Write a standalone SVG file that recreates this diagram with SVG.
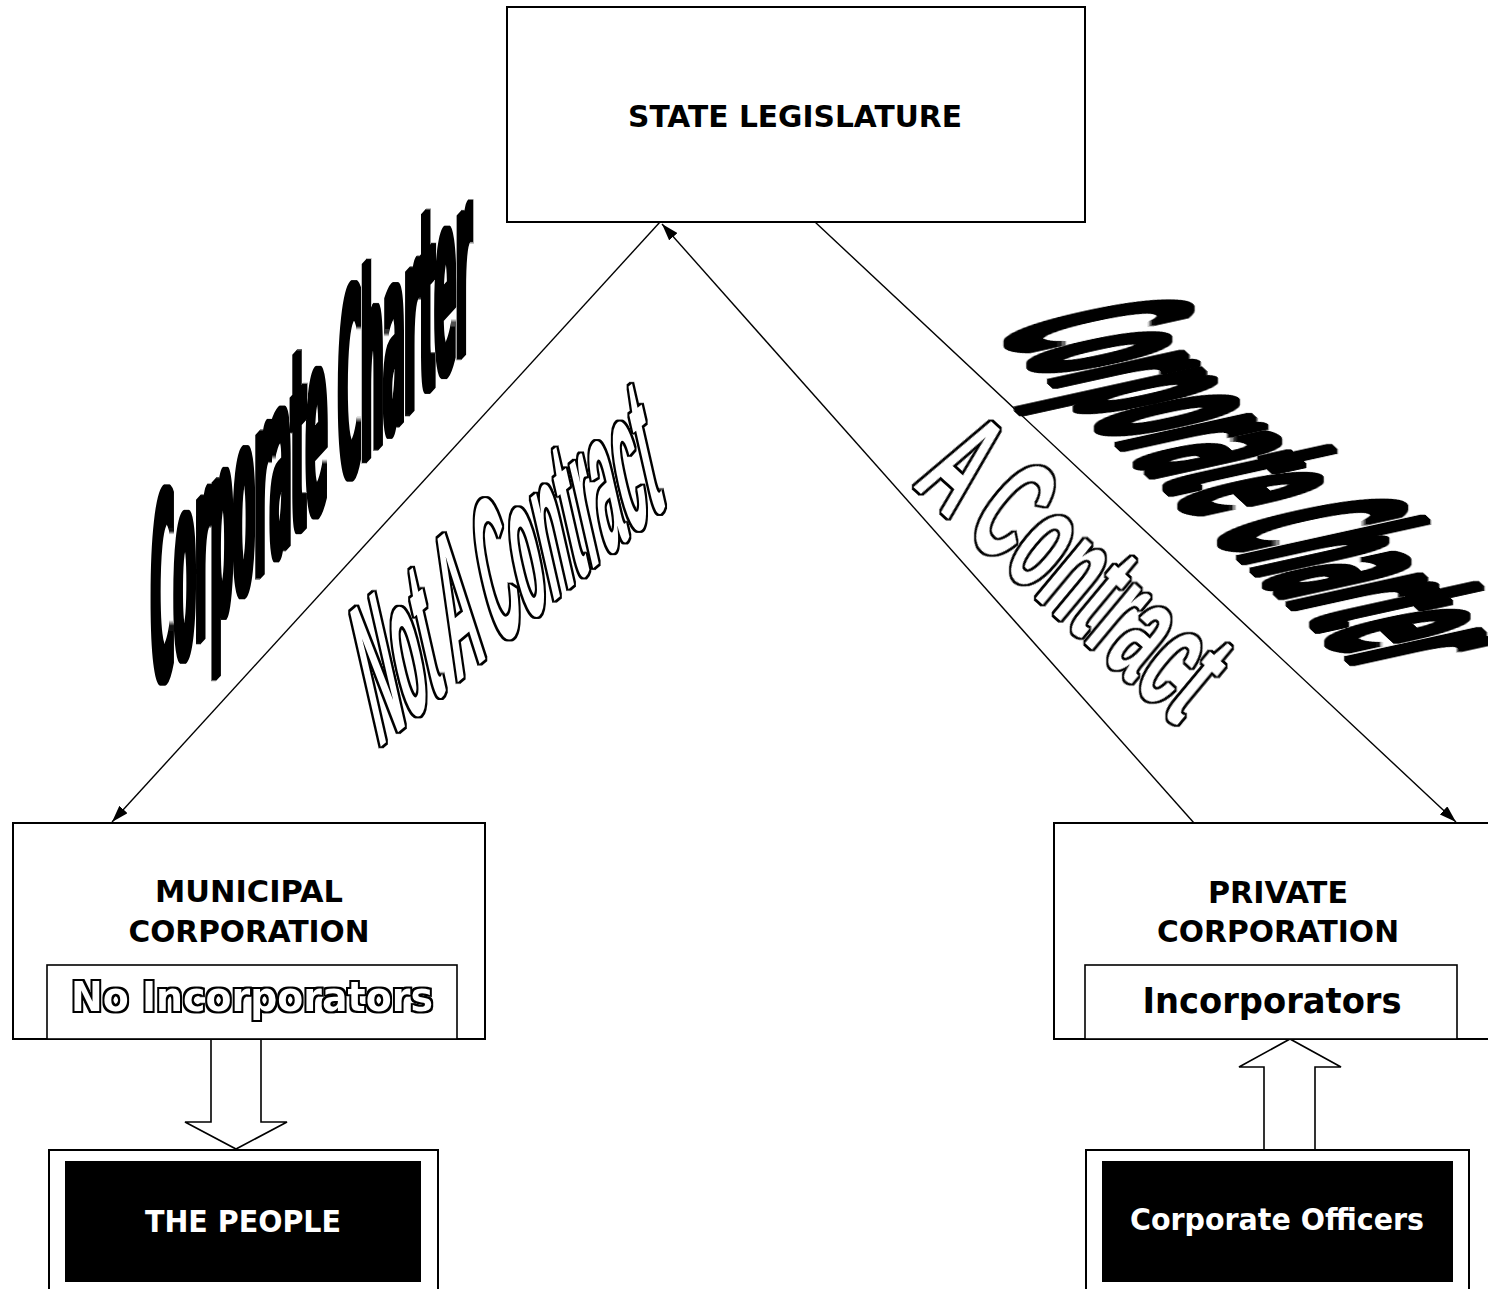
<svg xmlns="http://www.w3.org/2000/svg" width="1488" height="1289" viewBox="0 0 1488 1289">
<style>
.box{fill:#fff;stroke:#000;stroke-width:2}
.inner{fill:#fff;stroke:#000;stroke-width:1.6}
.dark{fill:#000;stroke:none}
.lbl{font-family:"DejaVu Sans","Liberation Sans",sans-serif;font-weight:bold;text-anchor:middle;fill:#000}
.wlbl{font-family:"DejaVu Sans","Liberation Sans",sans-serif;font-weight:bold;text-anchor:middle;fill:#fff}
.conn{stroke:#000;stroke-width:1.4;fill:none}
.hollow{fill:#fff;stroke:#000;stroke-width:1.6}
.wa{font-family:"DejaVu Sans","Liberation Sans",sans-serif;font-weight:bold;fill:#000}
.wo{font-family:"Liberation Sans","Arial",sans-serif;font-weight:bold;fill:#000}
</style>
<defs>
<marker id="ah" viewBox="0 0 17 11" refX="17" refY="5.5" markerWidth="17" markerHeight="11" markerUnits="userSpaceOnUse" orient="auto">
<path d="M0,0 L17,5.5 L0,11 z" fill="#000"/>
</marker>
<filter id="outline" x="-10%" y="-10%" width="120%" height="120%" color-interpolation-filters="sRGB">
<feMorphology in="SourceAlpha" operator="dilate" radius="1.5" result="d"/>
<feFlood flood-color="#ffffff" result="w"/>
<feComposite in="w" in2="SourceAlpha" operator="in" result="wf"/>
<feMerge><feMergeNode in="d"/><feMergeNode in="wf"/></feMerge>
</filter>
<filter id="heavy" x="-10%" y="-10%" width="120%" height="120%">
<feMorphology in="SourceGraphic" operator="dilate" radius="1.8"/>
</filter>
</defs>
<rect width="1488" height="1289" fill="#fff"/>

<g id="connectors">
<line class="conn" x1="660" y1="222" x2="112" y2="822" marker-end="url(#ah)"/>
<line class="conn" x1="1194" y1="823" x2="662" y2="224" marker-end="url(#ah)"/>
<line class="conn" x1="815" y1="222" x2="1456" y2="822" marker-end="url(#ah)"/>
<path class="hollow" d="M211,1039 L211,1122 L185,1122 L236,1149 L287,1122 L261,1122 L261,1039"/>
<path class="hollow" d="M1264,1150 L1264,1067 L1239,1067 L1290,1039 L1341,1067 L1315,1067 L1315,1150"/>
</g>

<g id="state-legislature">
<rect class="box" x="507" y="7" width="578" height="215"/>
<text class="lbl" x="795" y="127" font-size="30" textLength="334" lengthAdjust="spacingAndGlyphs">STATE LEGISLATURE</text>
</g>

<g id="municipal-corporation">
<rect class="box" x="13" y="823" width="472" height="216"/>
<text class="lbl" x="249" y="902" font-size="30" textLength="188" lengthAdjust="spacingAndGlyphs">MUNICIPAL</text>
<text class="lbl" x="249" y="942" font-size="30" textLength="241" lengthAdjust="spacingAndGlyphs">CORPORATION</text>
<rect class="inner" x="47" y="965" width="410" height="74"/>
<g filter="url(#outline)">
<text class="lbl" x="252" y="1011" font-size="41" textLength="362" lengthAdjust="spacingAndGlyphs">No Incorporators</text>
</g>
</g>

<g id="private-corporation">
<rect class="box" x="1054" y="823" width="440" height="216"/>
<text class="lbl" x="1278" y="903" font-size="30" textLength="140" lengthAdjust="spacingAndGlyphs">PRIVATE</text>
<text class="lbl" x="1278" y="942" font-size="30" textLength="242" lengthAdjust="spacingAndGlyphs">CORPORATION</text>
<rect class="inner" x="1085" y="965" width="372" height="74"/>
<text class="lbl" x="1272" y="1013" font-size="35" textLength="259" lengthAdjust="spacingAndGlyphs">Incorporators</text>
</g>

<g id="the-people">
<rect class="box" x="49" y="1150" width="389" height="160"/>
<rect class="dark" x="65" y="1161" width="356" height="121"/>
<text class="wlbl" x="243" y="1232" font-size="30" textLength="196" lengthAdjust="spacingAndGlyphs">THE PEOPLE</text>
</g>

<g id="corporate-officers">
<rect class="box" x="1086" y="1150" width="383" height="160"/>
<rect class="dark" x="1102" y="1161" width="351" height="121"/>
<text class="wlbl" x="1277" y="1230" font-size="30" textLength="294" lengthAdjust="spacingAndGlyphs">Corporate Officers</text>
</g>

<g id="labels">
<g filter="url(#heavy)">
<text class="wa" transform="matrix(0.676,-0.737,0,1,151,694)" font-size="258" textLength="474" lengthAdjust="spacingAndGlyphs">Corporate Charter</text>
<text class="wa" transform="matrix(0.731,0.682,-0.976,0.215,995,331)" font-size="250" textLength="500" lengthAdjust="spacingAndGlyphs">Corporate Charter</text>
</g>
<g filter="url(#outline)">
<text class="wo" transform="matrix(0.766,-0.643,0.222,0.975,378,749)" font-size="201" textLength="376" lengthAdjust="spacingAndGlyphs">Not A Contract</text>
<text class="wo" transform="matrix(0.74,0.673,-0.64,0.77,912,486)" font-size="147" textLength="358" lengthAdjust="spacingAndGlyphs">A Contract</text>
</g>
</g>
</svg>
